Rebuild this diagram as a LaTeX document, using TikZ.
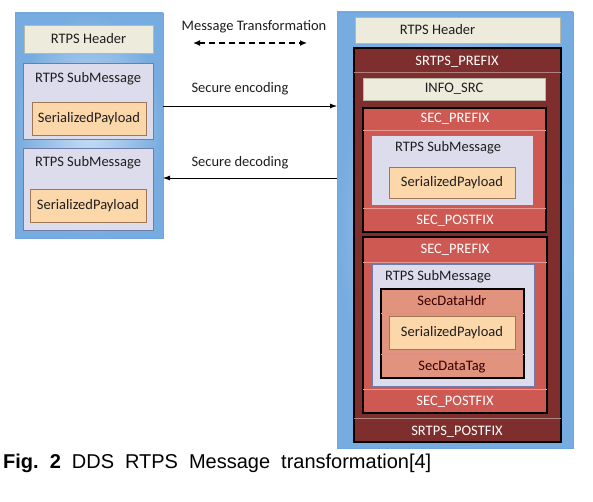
\documentclass[tikz,border=0pt]{standalone}
\usepackage{fontspec}
\setmainfont{Carlito}
\newfontfamily\capfont{Liberation Sans}
\usetikzlibrary{arrows.meta,calc}
\definecolor{outerblue}{HTML}{A7CBEF}
\definecolor{outeredge}{HTML}{6EA6DD}
\definecolor{hdrfill}{HTML}{ECEBDC}
\definecolor{hdredge}{HTML}{B8B8A8}
\definecolor{subfill}{HTML}{DDDCEC}
\definecolor{subedge}{HTML}{6F7BA8}
\definecolor{payfill}{HTML}{FCD7AA}
\definecolor{payedge}{HTML}{9E7658}
\definecolor{srtps}{HTML}{7E2E2C}
\definecolor{secred}{HTML}{CD5952}
\definecolor{secdata}{HTML}{E2937D}
\definecolor{bandline}{HTML}{E89A92}
\definecolor{txtdark}{HTML}{1E1E1E}
\tikzset{
  rawbox/.style={rectangle, inner sep=0pt, outer sep=0pt, anchor=north west},
  outerbox/.style={rawbox, draw=outeredge, line width=0.8pt, inner color=outerblue!60!white, outer color=outeredge!85!outerblue},
  hdrbox/.style={rawbox, fill=hdrfill, draw=hdredge, line width=0.6pt},
  subbox/.style={rawbox, fill=subfill, draw=subedge, line width=0.6pt},
  paybox/.style={rawbox, fill=payfill, draw=payedge, line width=0.6pt},
  srtpsbox/.style={rawbox, fill=srtps, draw=black, line width=1.2pt},
  secbox/.style={rawbox, fill=secred, draw=black, line width=1.3pt},
  secdatabox/.style={rawbox, fill=secdata, draw=black, line width=1.4pt},
  lbl/.style={inner sep=0pt, font=\fontsize{14.5}{16}\selectfont, text=txtdark},
  wlbl/.style={inner sep=0pt, font=\fontsize{14.5}{16}\selectfont, text=white},
  arr/.style={-{Latex[length=7pt,width=5pt]}, line width=0.8pt, black},
  captext/.style={inner sep=0pt, anchor=base west, font=\capfont\fontsize{20}{24}\selectfont},
}
\newcommand\mybox[6]{\node[#2, minimum width={(#5-#3)*1pt}, minimum height={(#6-#4)*1pt}] (#1) at (#3,#4) {};}
\begin{document}
\begin{tikzpicture}[x=1pt,y=-1pt]
\useasboundingbox (0,0) rectangle (593,502);
% ---------- left message ----------
\mybox{lo}{outerbox}{15}{13}{163}{238}
\mybox{lh}{hdrbox}{24}{25}{153}{53}
\node[lbl] (lht) at (lh.center) {RTPS Header};
\mybox{ls1}{subbox}{23}{63}{153}{139}
\node[lbl] (ls1t) at (88,79) {RTPS SubMessage};
\mybox{lp1}{paybox}{32}{102}{146}{135}
\node[lbl] (lp1t) at (lp1.center) {SerializedPayload};
\mybox{ls2}{subbox}{23}{148}{153}{230}
\node[lbl] (ls2t) at (88,163) {RTPS SubMessage};
\mybox{lp2}{paybox}{30}{189}{146}{222}
\node[lbl] (lp2t) at (lp2.center) {SerializedPayload};
% ---------- right message ----------
\mybox{ro}{outerbox}{337}{12}{573}{448}
\mybox{rh}{hdrbox}{355}{17}{560}{43}
\node[lbl] (rht) at ($(rh.center)+(-20,0)$) {RTPS Header};
\mybox{sr}{srtpsbox}{354}{48}{561}{442}
\draw[srtps!60!white, line width=0.5pt] (sr.west |- 0,72) -- (sr.east |- 0,72);
\draw[srtps!60!white, line width=0.5pt] (sr.west |- 0,418) -- (sr.east |- 0,418);
\node[wlbl] (srp) at (457,62) {SRTPS\_PREFIX};
\node[wlbl] (srq) at (457,432) {SRTPS\_POSTFIX};
\mybox{info}{hdrbox}{363}{78}{545}{100}
\node[lbl] (infot) at (info.center) {INFO\_SRC};
% SEC box 1
\mybox{s1}{secbox}{363}{108}{546}{232}
\draw[bandline, line width=0.5pt] (s1.west |- 0,130) -- (s1.east |- 0,130);
\draw[bandline, line width=0.5pt] (s1.west |- 0,208) -- (s1.east |- 0,208);
\node[wlbl] (s1p) at (455,119) {SEC\_PREFIX};
\node[wlbl] (s1q) at (455,221) {SEC\_POSTFIX};
\mybox{rs1}{subbox}{371}{135}{533}{205}
\node[lbl] (rs1t) at (448,148) {RTPS SubMessage};
\mybox{rp1}{paybox}{389}{167}{515}{198}
\node[lbl] (rp1t) at (rp1.center) {SerializedPayload};
% SEC box 2
\mybox{s2}{secbox}{363}{237}{547}{413}
\draw[bandline, line width=0.5pt] (s2.west |- 0,262) -- (s2.east |- 0,262);
\draw[bandline, line width=0.5pt] (s2.west |- 0,389) -- (s2.east |- 0,389);
\node[wlbl] (s2p) at (455,250) {SEC\_PREFIX};
\node[wlbl] (s2q) at (455,402) {SEC\_POSTFIX};
\mybox{rs2}{subbox}{372}{264}{534}{386}
\node[lbl] (rs2t) at (438,277) {RTPS SubMessage};
\mybox{sd}{secdatabox}{381}{289}{524}{378}
\draw[secred!70!white, line width=0.5pt] (sd.west |- 0,313) -- (sd.east |- 0,313);
\draw[secred!70!white, line width=0.5pt] (sd.west |- 0,354) -- (sd.east |- 0,354);
\node[lbl, text=black!80!red] (sdh) at (452,301) {SecDataHdr};
\node[lbl, text=black!80!red] (sdt) at (452,367) {SecDataTag};
\mybox{rp2}{paybox}{389}{316}{515}{349}
\node[lbl] (rp2t) at (rp2.center) {SerializedPayload};
% ---------- middle ----------
\node[lbl] (mt) at (254,27) {Message Transformation};
\coordinate (mtl) at (193,43);
\coordinate (mtr) at (307,43);
\draw[{Latex[length=7pt,width=6pt]}-{Latex[length=7pt,width=6pt]}, line width=1.3pt, dash pattern=on 6pt off 4pt] (mtl) -- (mtr);
\coordinate (encY) at (250,106);
\coordinate (decY) at (250,178);
\node[lbl] (enct) at (240,89) {Secure encoding};
\node[lbl] (dect) at (240,163) {Secure decoding};
\draw[arr] (lo.east |- encY) -- (ro.west |- encY);
\draw[arr] (ro.west |- decY) -- (lo.east |- decY);
% ---------- caption ----------
\node[captext] (cap) at (3,468) {\spaceskip=11pt\relax\textbf{Fig.\ 2} DDS RTPS Message transformation[4]};
\end{tikzpicture}
\end{document}
